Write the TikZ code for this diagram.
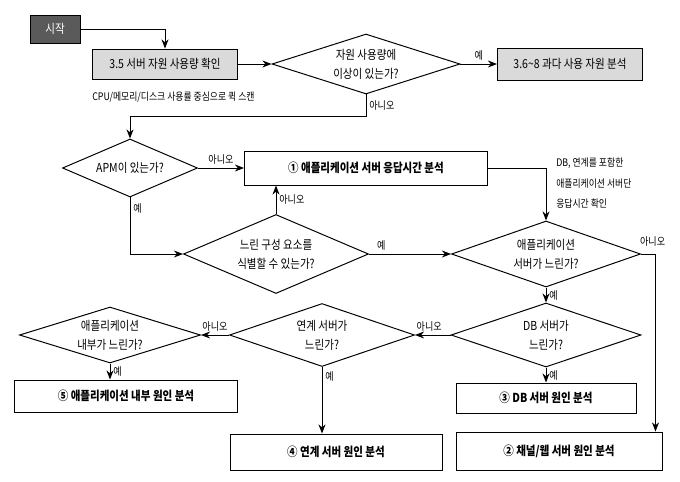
\documentclass[tikz,border=0pt]{standalone}
\usepackage{fontspec}
\setmainfont[FakeStretch=0.85]{Noto Sans CJK KR}
\usetikzlibrary{shapes.geometric,arrows.meta}
\definecolor{startgray}{HTML}{5A5A5A}
\definecolor{boxgray}{HTML}{DADADA}
\begin{document}
\begin{tikzpicture}[
    box/.style={rectangle, draw, line width=0.7pt, font=\fontsize{8.8}{10}\selectfont, align=center, inner sep=0pt},
    numbox/.style={box, font=\fontsize{8.8}{10}\selectfont\bfseries},
    dia/.style={diamond, draw, line width=0.7pt, font=\fontsize{8.8}{13.5}\selectfont, align=center, inner sep=0pt, aspect=2.8},
    lbl/.style={font=\fontsize{7.6}{8}\selectfont, inner sep=2pt},
    note/.style={font=\fontsize{7.4}{14.5}\selectfont, inner sep=0pt, align=left},
    arr/.style={-{Stealth[length=6.5pt,width=5pt]}, line width=0.7pt},
]
\useasboundingbox (0,0) rectangle (17,-12.025);

% start and quick scan (top)
\node[box, fill=startgray, text=white, minimum width=1.25cm, minimum height=0.7cm] (start) at (1.375,-0.725) {시작};
\node[box, fill=boxgray, minimum width=3.625cm, minimum height=0.75cm] (scan) at (4.125,-1.6) {3.5 서버 자원 사용량 확인};
\node[note, anchor=west] (scannote) at (2.3,-2.43) {CPU/메모리/디스크 사용률 중심으로 퀵 스캔};
\node[dia, minimum width=4.7cm, minimum height=1.5cm] (usage) at (9.15,-1.6) {자원 사용량에\\이상이 있는가?};
\node[box, fill=boxgray, minimum width=3.625cm, minimum height=0.8cm] (over) at (14.25,-1.6) {3.6\textasciitilde8 과다 사용 자원 분석};

% APM check and response time
\node[dia, minimum width=3.375cm, minimum height=1.45cm] (apm) at (3.25,-4.2) {APM이 있는가?};
\node[numbox, minimum width=6.075cm, minimum height=0.85cm] (resp) at (9.15,-4.2) {① 애플리케이션 서버 응답시간 분석};
\node[note, anchor=north west] (respnote) at (13.9,-3.95) {DB, 연계를 포함한\\애플리케이션 서버단\\응답시간 확인};

% slow component
\node[dia, minimum width=4.625cm, minimum height=1.975cm] (slow) at (6.9,-6.35) {느린 구성 요소를\\식별할 수 있는가?};
\node[dia, minimum width=4.725cm, minimum height=1.65cm] (appsrv) at (13.65,-6.35) {애플리케이션\\서버가 느린가?};

% DB, linked server, application inside
\node[dia, minimum width=4.525cm, minimum height=1.4cm] (inner) at (2.75,-8.375) {애플리케이션\\내부가 느린가?};
\node[dia, minimum width=4.625cm, minimum height=1.575cm] (link) at (8.05,-8.375) {연계 서버가\\느린가?};
\node[dia, minimum width=4.75cm, minimum height=1.6cm] (db) at (13.65,-8.375) {DB 서버가\\느린가?};

% cause analysis boxes
\node[numbox, minimum width=5.575cm, minimum height=0.8cm] (innerbox) at (3.15,-9.9) {⑤ 애플리케이션 내부 원인 분석};
\node[numbox, minimum width=4.5cm, minimum height=0.75cm] (dbbox) at (13.65,-9.95) {③ DB 서버 원인 분석};
\node[numbox, minimum width=5.3cm, minimum height=0.9cm] (linkbox) at (8.4,-11.3) {④ 연계 서버 원인 분석};
\node[numbox, minimum width=5.15cm, minimum height=0.95cm] (webbox) at (13.975,-11.275) {② 채널/웹 서버 원인 분석};

% flows
\draw[arr] (start.east) -| (scan.north);
\draw[arr] (scan.east) -- (usage.west);
\draw[arr] (usage.east) -- node[lbl, above] {예} (over.west);
\draw[arr] (usage.south) -- node[lbl, right] {아니오} ++(0,-0.55) -| (apm.north);
\draw[arr] (apm.east) -- node[lbl, above] {아니오} (apm.east -| resp.west);
\draw[arr] (apm.south) |- node[lbl, right, pos=0.1] {예} (slow.west);
\draw[arr] (slow.north) -- node[lbl, right] {아니오} (slow.north |- resp.south);
\draw[arr] (slow.east) -- node[lbl, above, pos=0.15] {예} (appsrv.west);
\draw[arr] (resp.east) -| (appsrv.north);
\draw[arr] (appsrv.east) -| node[lbl, above, pos=0.4, yshift=3pt] {아니오} ([xshift=-0.175cm]webbox.north east);
\draw[arr] (appsrv.south) -- node[lbl, right] {예} (db.north);
\draw[arr] (db.west) -- node[lbl, above, pos=0.6] {아니오} (link.east);
\draw[arr] (db.south) -- node[lbl, right] {예} (dbbox.north);
\draw[arr] (link.west) -- node[lbl, above] {아니오} (inner.east);
\draw[arr] (link.south) -- node[lbl, right, pos=0.15] {예} (link.south |- linkbox.north);
\draw[arr] (inner.south) -- node[lbl, right] {예} (inner.south |- innerbox.north);

\end{tikzpicture}
\end{document}
